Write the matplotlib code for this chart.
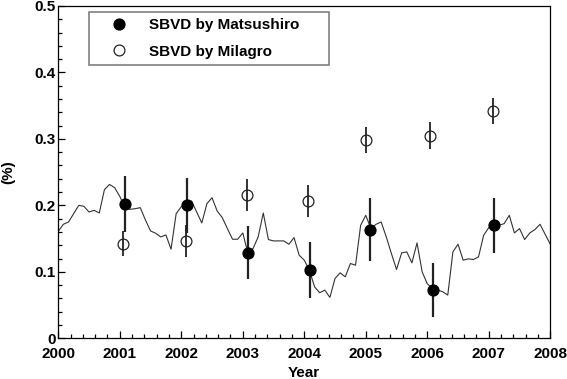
import numpy as np
import matplotlib
matplotlib.use('Agg')
import matplotlib.pyplot as plt
from matplotlib.lines import Line2D
from matplotlib.ticker import MultipleLocator, FuncFormatter

plt.rcParams['font.family'] = ['Liberation Sans', 'DejaVu Sans']
plt.rcParams['font.weight'] = 'bold'
plt.rcParams['font.size'] = 11

# monthly curve, Jan 2000 .. Jan 2008
line_vals = [0.161, 0.1715, 0.175, 0.1875, 0.2, 0.1985, 0.19, 0.1925, 0.1885, 0.2235,
             0.2315, 0.2265, 0.2135, 0.197, 0.194, 0.195, 0.1965, 0.178, 0.1615, 0.158,
             0.1525, 0.1555, 0.134, 0.1875, 0.198, 0.203, 0.2065, 0.19, 0.1735, 0.2025,
             0.2115, 0.1915, 0.1815, 0.165, 0.149, 0.149, 0.1585, 0.128, 0.135, 0.1525,
             0.1885, 0.1485, 0.1465, 0.1465, 0.1465, 0.1415, 0.1515, 0.125, 0.1175, 0.1025,
             0.0775, 0.0685, 0.0725, 0.0615, 0.09, 0.0985, 0.0925, 0.1125, 0.11, 0.17,
             0.185, 0.165, 0.1715, 0.175, 0.1525, 0.1275, 0.1035, 0.1285, 0.13, 0.1135,
             0.1435, 0.1, 0.082, 0.0755, 0.0725, 0.07, 0.065, 0.13, 0.1415, 0.1175,
             0.1195, 0.1185, 0.1225, 0.155, 0.1665, 0.17, 0.17, 0.1725, 0.185, 0.1585,
             0.165, 0.1485, 0.1585, 0.1635, 0.1715, 0.1565, 0.1415]
line_years = 2000 + np.arange(len(line_vals)) / 12.0

# SBVD by Matsushiro
mat_years = [2001.085, 2002.09, 2003.09, 2004.085, 2005.075, 2006.085, 2007.085]
mat_vals = [0.2015, 0.2, 0.1285, 0.1025, 0.1635, 0.0725, 0.17]
mat_errs = [0.042, 0.041, 0.04, 0.042, 0.047, 0.041, 0.041]

# SBVD by Milagro
mil_years = [2001.058, 2002.07, 2003.065, 2004.058, 2005.005, 2006.05, 2007.07]
mil_vals = [0.1425, 0.146, 0.216, 0.2065, 0.2985, 0.305, 0.3425]
mil_errs = [0.019, 0.024, 0.024, 0.024, 0.02, 0.02, 0.0195]

fig = plt.figure(figsize=(5.67, 3.79), dpi=100)
ax = fig.add_axes([0.1028, 0.1074, 0.8677, 0.877])

ax.plot(line_years, line_vals, color='#333333', lw=0.8)

ax.errorbar(mil_years, mil_vals, yerr=mil_errs, fmt='o', ms=7.8, mfc='none',
            mec='#222222', mew=0.9, ecolor='#222222', elinewidth=1.3, capsize=0,
            zorder=3)
ax.errorbar(mat_years, mat_vals, yerr=mat_errs, fmt='o', ms=7.8, mfc='black',
            mec='black', ecolor='#222222', elinewidth=1.6, capsize=0,
            zorder=4)

ax.set_xlim(2000, 2008)
ax.set_ylim(0, 0.5)
ax.xaxis.set_major_locator(MultipleLocator(1))
ax.xaxis.set_minor_locator(MultipleLocator(0.2))
ax.yaxis.set_major_locator(MultipleLocator(0.1))
ax.yaxis.set_minor_locator(MultipleLocator(0.02))
ax.xaxis.set_major_formatter(FuncFormatter(lambda v, p: '%d' % round(v)))
ax.yaxis.set_major_formatter(FuncFormatter(lambda v, p: '0' if abs(v) < 1e-9 else '%.1f' % v))
ax.tick_params(which='both', direction='in', top=False, right=False)
ax.tick_params(which='major', length=5, width=0.9)
ax.tick_params(which='minor', length=3.2, width=0.9)
ax.tick_params(axis='x', pad=6.5)
ax.tick_params(axis='y', pad=2)
for sp in ax.spines.values():
    sp.set_linewidth(0.9)

ax.set_xlabel('Year', fontweight='bold')
ax.set_ylabel('(%)', fontweight='bold')
ax.xaxis.set_label_coords(0.5, -0.083)
ax.yaxis.set_label_coords(-0.088, 0.5)

handles = [Line2D([], [], ls='none', marker='o', ms=7.8, mfc='black', mec='black'),
           Line2D([], [], ls='none', marker='o', ms=7.8, mfc='none', mec='#222222', mew=0.9)]
labels = ['SBVD by Matsushiro', 'SBVD by Milagro']
leg = ax.legend(handles, labels, loc='upper left',
                bbox_to_anchor=(0.0624, 0.982, 0.488, 0.0), mode='expand',
                borderpad=0.4, handlelength=3.1, handletextpad=0.4,
                labelspacing=0.84, fancybox=False, framealpha=1,
                edgecolor='#808080', borderaxespad=0)
leg.get_frame().set_linewidth(1.2)
for t in leg.get_texts():
    t.set_fontweight('bold')

fig.savefig('out.png', dpi=100)
